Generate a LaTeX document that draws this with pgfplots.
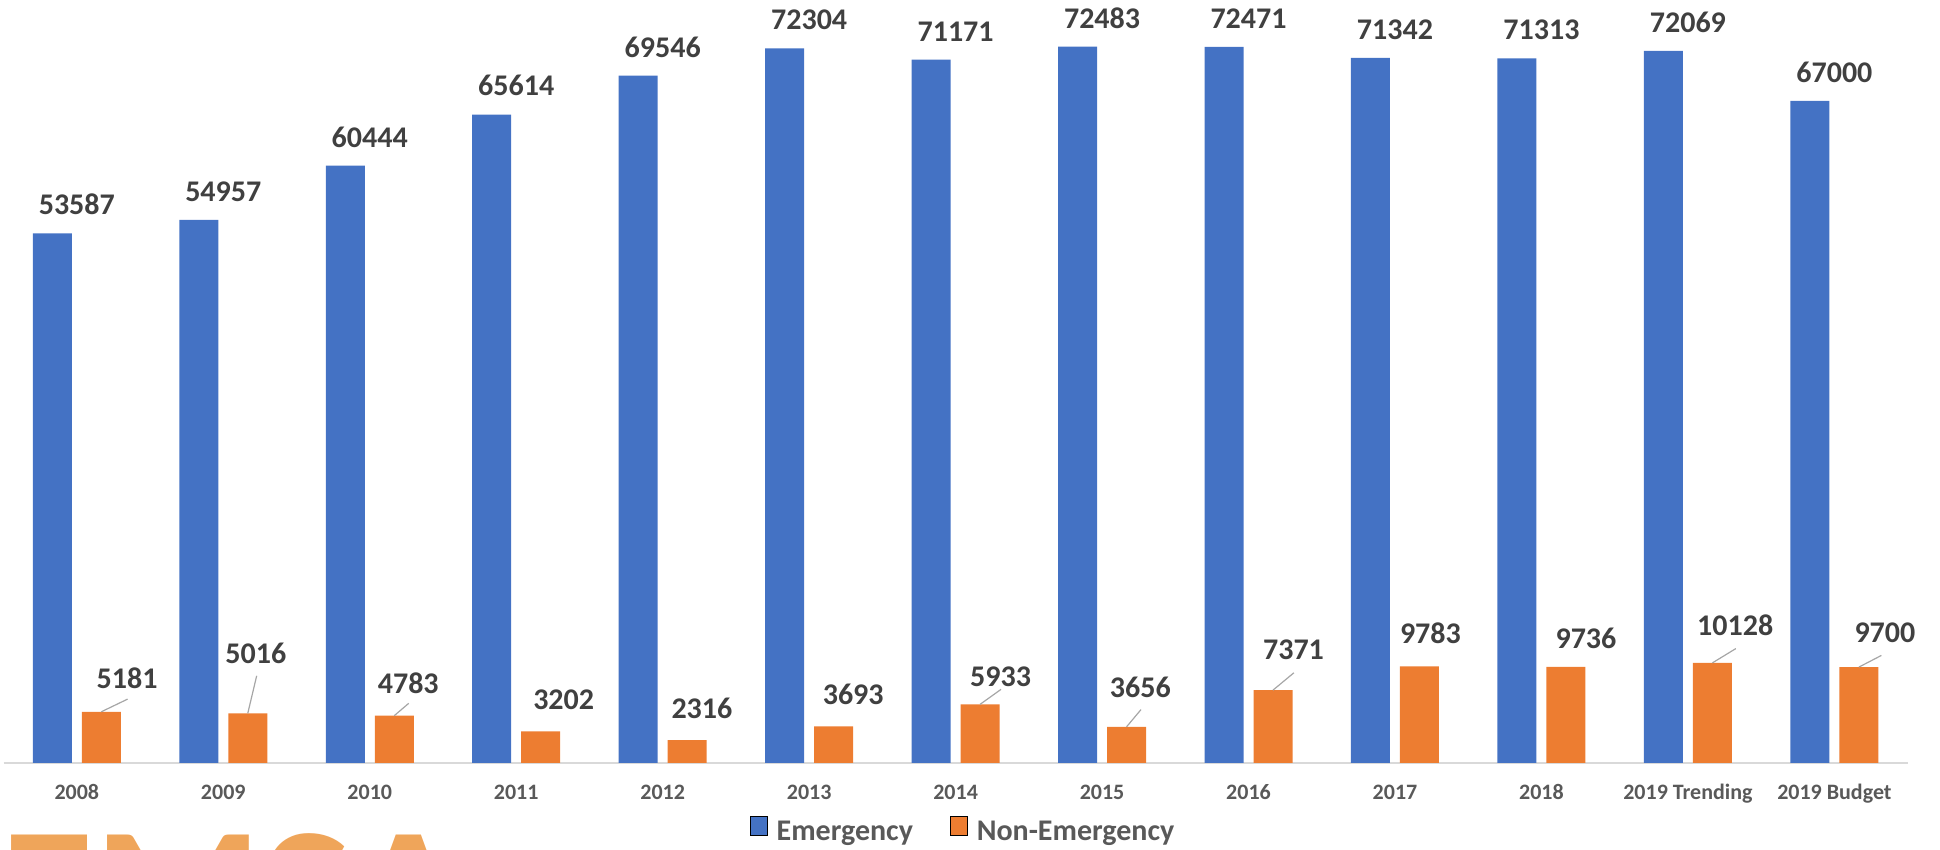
\documentclass[border=0pt]{standalone}
\usepackage{fontspec}
\setmainfont{Carlito}
\usepackage{pgfplots}
\usepackage{pgfplotstable}
\pgfplotsset{compat=1.18}
\definecolor{emblue}{HTML}{4472C4}
\definecolor{nonorange}{HTML}{ED7D31}
\definecolor{lbl}{HTML}{404040}
\definecolor{ticklbl}{HTML}{595959}
\definecolor{axisgray}{HTML}{D9D9D9}
\definecolor{leadgray}{HTML}{A6A6A6}
\definecolor{logo}{HTML}{EFA55A}

% i = category, em / ne = calls, lx ly = where the Non-Emergency label sits
\pgfplotstableread{
i  em    ne    lx     ly
0  53587 5181  0.343  7478
1  54957 5016  1.222  9975
2  60444 4783  2.263  7009
3  65614 3202  3.324  5327
4  69546 2316  4.268  4441
5  72304 3693  5.301  5818
6  71171 5933  6.307  7724
7  72483 3656  7.261  6591
8  72471 7371  8.307  10377
9  71342 9783  9.242  12009
10 71313 9736  10.304 11558
11 72069 10128 11.323 12820
12 67000 9700  12.345 12098
}\calls

% leader lines: orange bar top -> label, nan breaks the line
\pgfplotstableread{
x      y
0.167  5181
0.347  6466
nan    nan
1.167  5016
1.228  8821
nan    nan
2.167  4783
2.266  6038
nan    nan
6.167  5933
6.310  7451
nan    nan
7.167  3656
7.266  5407
nan    nan
8.167  7371
8.310  9132
nan    nan
11.167 10128
11.327 11575
nan    nan
12.167 9700
12.321 10884
}\leaders

\begin{document}
\begin{tikzpicture}
\useasboundingbox (-1.8pt,-43.5pt) rectangle (968.2pt,381.5pt);
\node[anchor=north west, inner sep=0pt, text=logo,
  font=\bfseries\fontsize{96}{96}\selectfont] at (-1.8pt,-35pt) {EMSA};
\begin{axis}[
  scale only axis, width=952pt, height=381.5pt,
  xmin=-0.5, xmax=12.5, ymin=0, ymax=77210,
  clip=false,
  axis x line*=bottom, axis y line=none, ytick=\empty,
  x axis line style={-, draw=axisgray, line width=1.35pt},
  xtick={0,...,12},
  xticklabels={2008,2009,2010,2011,2012,2013,2014,2015,2016,2017,2018,2019 Trending,2019 Budget},
  major tick length=0pt,
  xticklabel style={anchor=base, inner sep=0pt, yshift=-18.25pt,
    font=\bfseries\fontsize{11}{11}\selectfont, text=ticklbl},
  unbounded coords=jump,
  legend columns=-1,
  legend style={draw=none, fill=none, at={(0.5034,-0.0875)}, anchor=center,
    font=\bfseries\fontsize{15}{15}\selectfont, text=ticklbl,
    nodes={inner sep=0pt},
    /tikz/every odd column/.append style={column sep=4.5pt},
    /tikz/every even column/.append style={column sep=18.5pt}},
  legend image code/.code={\fill[#1] (0pt,-1.5pt) rectangle (8.5pt,8pt);},
]
\addplot[forget plot, ybar, bar width=19.5pt, bar shift=-12.25pt, fill=emblue, draw=none,
  point meta=explicit symbolic, nodes near coords,
  every node near coord/.append style={anchor=south, inner sep=0pt, yshift=9pt,
    font=\bfseries\fontsize{15}{15}\selectfont, text=lbl}]
  table[x=i, y=em, meta=em] {\calls};
\addplot[forget plot, ybar, bar width=19.5pt, bar shift=12.25pt, fill=nonorange, draw=none]
  table[x=i, y=ne] {\calls};
\addplot[forget plot, draw=leadgray, line width=0.6pt] table[x=x, y=y] {\leaders};
\addplot[forget plot, draw=none, mark=none, point meta=explicit symbolic,
  nodes near coords,
  every node near coord/.append style={anchor=south, inner sep=0pt,
    font=\bfseries\fontsize{15}{15}\selectfont, text=lbl}]
  table[x=lx, y=ly, meta=ne] {\calls};
\addlegendimage{fill=emblue}
\addlegendentry{Emergency}
\addlegendimage{fill=nonorange}
\addlegendentry{Non-Emergency}
\end{axis}
\end{tikzpicture}
\end{document}
